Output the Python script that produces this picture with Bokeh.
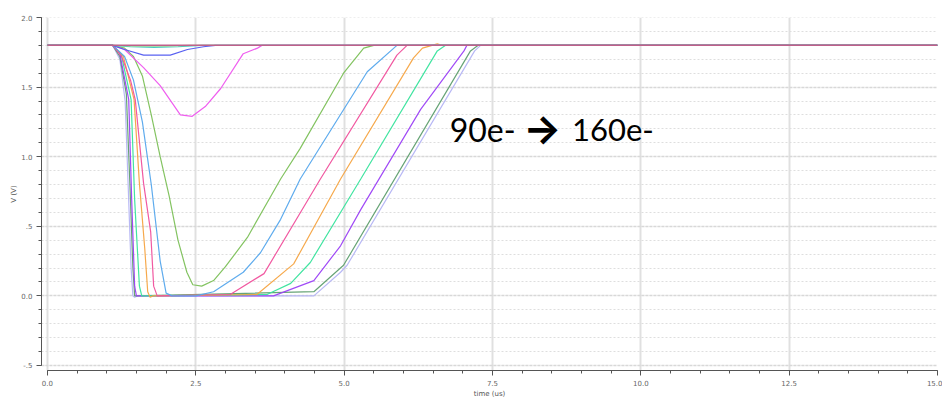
from bokeh.plotting import figure
from bokeh.models import FixedTicker, Label, Range1d
from bokeh.embed import file_html
from bokeh.resources import INLINE
import numpy as np

# ---- data (time in us, voltage in V) ----
t_blue = [0.0, 1.1, 1.3, 1.62, 2.07, 2.36, 2.63, 2.83, 15.0]
v_blue = [1.8, 1.8, 1.77, 1.73, 1.73, 1.77, 1.79, 1.8, 1.8]

t_magenta = [0.0, 1.1, 1.3, 1.62, 1.9, 2.24, 2.44, 2.66, 2.92, 3.3, 3.54, 3.62, 15.0]
v_magenta = [1.8, 1.8, 1.77, 1.64, 1.51, 1.30, 1.29, 1.36, 1.49, 1.74, 1.78, 1.8, 1.8]

t_green = [0.0, 1.1, 1.3, 1.45, 1.6, 1.75, 1.9, 2.05, 2.2, 2.35, 2.45, 2.6, 2.8, 3.0,
           3.37, 3.93, 4.26, 4.99, 5.33, 5.5, 15.0]
v_green = [1.8, 1.8, 1.78, 1.72, 1.58, 1.30, 1.0, 0.72, 0.40, 0.17, 0.08, 0.07, 0.11, 0.21,
           0.42, 0.84, 1.06, 1.60, 1.78, 1.8, 1.8]

t_lightblue = [0.0, 1.1, 1.3, 1.45, 1.6, 1.75, 1.9, 2.0, 2.1, 2.5, 2.8, 3.3, 3.59, 3.93,
               4.26, 5.39, 5.89, 15.0]
v_lightblue = [1.8, 1.8, 1.72, 1.55, 1.25, 0.80, 0.25, 0.02, 0.0, 0.0, 0.03, 0.17, 0.31, 0.55,
               0.84, 1.61, 1.8, 1.8]

t_pink = [0.0, 1.1, 1.25, 1.4, 1.48, 1.62, 1.74, 1.79, 1.85, 3.08, 3.65, 4.6, 5.89, 6.06, 15.0]
v_pink = [1.8, 1.8, 1.72, 1.55, 1.41, 0.81, 0.46, 0.07, 0.0, 0.01, 0.16, 0.84, 1.73, 1.8, 1.8]

t_orange = [0.0, 1.1, 1.28, 1.46, 1.55, 1.64, 1.69, 1.73, 1.78, 3.53, 4.15, 4.94, 6.17, 6.32,
            6.57, 6.65, 15.0]
v_orange = [1.8, 1.8, 1.72, 1.41, 0.81, 0.34, 0.03, -0.01, 0.0, 0.01, 0.23, 0.84, 1.71, 1.78,
            1.81, 1.8, 1.8]

t_teal = [0.0, 1.1, 1.24, 1.41, 1.47, 1.55, 1.59, 3.7, 4.1, 4.43, 5.28, 6.57, 6.71, 15.0]
v_teal = [1.8, 1.8, 1.74, 1.41, 0.69, 0.07, 0.0, 0.01, 0.09, 0.24, 0.84, 1.76, 1.8, 1.8]

t_purple = [0.0, 1.1, 1.22, 1.37, 1.42, 1.47, 1.5, 3.81, 4.49, 4.94, 5.28, 6.29, 7.02, 7.07, 15.0]
v_purple = [1.8, 1.8, 1.74, 1.41, 0.69, 0.07, 0.0, 0.0, 0.11, 0.36, 0.62, 1.34, 1.76, 1.8, 1.8]

t_darkgreen = [0.0, 1.1, 1.22, 1.33, 1.39, 1.44, 1.47, 1.52, 4.49, 4.99, 7.13, 7.26, 15.0]
v_darkgreen = [1.8, 1.8, 1.72, 1.45, 0.80, 0.20, 0.0, 0.0, 0.03, 0.22, 1.76, 1.8, 1.8]

t_lavender = [0.0, 1.1, 1.22, 1.31, 1.36, 1.41, 1.44, 1.47, 1.52, 4.49, 4.94, 5.05, 7.2, 7.3, 15.0]
v_lavender = [1.8, 1.8, 1.70, 1.40, 0.80, 0.20, 0.0, -0.01, 0.0, 0.0, 0.17, 0.22, 1.76, 1.8, 1.8]

t_cyan = [0.0, 1.1, 1.4, 1.8, 2.2, 2.6, 15.0]
v_cyan = [1.8, 1.8, 1.79, 1.785, 1.79, 1.8, 1.8]

t_lime = [0.0, 1.1, 1.5, 2.0, 2.4, 15.0]
v_lime = [1.8, 1.8, 1.795, 1.795, 1.8, 1.8]

t_flat = [0.0, 15.0]
v_flat = [1.8, 1.8]

series = [
    (t_lavender, v_lavender, "#b4b4f4"),
    (t_darkgreen, v_darkgreen, "#5f9f6f"),
    (t_purple, v_purple, "#9b40f5"),
    (t_teal, v_teal, "#38e39c"),
    (t_orange, v_orange, "#f5a442"),
    (t_pink, v_pink, "#f0509c"),
    (t_lightblue, v_lightblue, "#55a6ec"),
    (t_green, v_green, "#7cc058"),
    (t_magenta, v_magenta, "#ee55ee"),
    (t_blue, v_blue, "#5058f0"),
    (t_cyan, v_cyan, "#40c8c0"),
    (t_lime, v_lime, "#90d890"),
]

x_major = [0.0, 2.5, 5.0, 7.5, 10.0, 12.5, 15.0]
x_labels = ["0.0", "2.5", "5.0", "7.5", "10.0", "12.5", "15.0"]
y_major = [-0.5, 0.0, 0.5, 1.0, 1.5, 2.0]
y_labels = ["-.5", "0.0", ".5", "1.0", "1.5", "2.0"]

p = figure(width=942, height=400, output_backend="svg", toolbar_location=None,
           x_range=Range1d(-0.1, 15.0), y_range=Range1d(-0.536, 2.0),
           min_border_left=41, min_border_right=5, min_border_top=17, min_border_bottom=28)
p.outline_line_color = None
p.background_fill_color = "white"

for t, v, c in series:
    p.line(t, v, line_color=c, line_width=1.2, line_alpha=0.95)
p.line(t_flat, v_flat, line_color="#c0608a", line_width=1.5, line_alpha=1.0)

label_font = "DejaVu Sans"
p.xaxis.ticker = FixedTicker(ticks=x_major, minor_ticks=list(np.arange(0, 15.01, 0.5)))
p.xaxis.major_label_overrides = {k: s for k, s in zip(x_major, x_labels)}
p.yaxis.ticker = FixedTicker(ticks=y_major, minor_ticks=list(np.arange(-0.5, 2.01, 0.1)))
p.yaxis.major_label_overrides = {k: s for k, s in zip(y_major, y_labels)}
p.xaxis.bounds = (0, 15)
p.yaxis.bounds = (-0.5, 2.0)
p.xaxis.axis_label = "time (us)"
p.yaxis.axis_label = "V (V)"
for ax in (p.xaxis, p.yaxis):
    ax.axis_line_color = "#555555"
    ax.major_tick_line_color = "#555555"
    ax.minor_tick_line_color = "#555555"
    ax.major_tick_in = 0
    ax.minor_tick_in = 0
    ax.major_tick_out = 5
    ax.minor_tick_out = 3
    ax.major_label_text_font = label_font
    ax.major_label_text_font_size = "7px"
    ax.major_label_text_color = "#666666"
    ax.axis_label_text_font = label_font
    ax.axis_label_text_font_size = "7px"
    ax.axis_label_text_color = "#555555"
    ax.axis_label_text_font_style = "normal"
p.xaxis.major_label_standoff = 4
p.xaxis.axis_label_standoff = 1
p.yaxis.major_label_standoff = 4
p.yaxis.axis_label_standoff = 0

p.xgrid.ticker = FixedTicker(ticks=x_major)
p.xgrid.grid_line_color = "#e0e0e0"
p.xgrid.grid_line_width = 2
p.ygrid.ticker = FixedTicker(ticks=y_major, minor_ticks=list(np.arange(-0.5, 2.01, 0.1)))
p.ygrid.grid_line_color = "#d8d8d8"
p.ygrid.grid_line_width = 1.5
p.ygrid.grid_line_dash = "3 1"
p.ygrid.minor_grid_line_color = "#dedede"
p.ygrid.minor_grid_line_dash = "2 2"

note_parts = ["90e-", "\u2192", "160e-"]
p.add_layout(Label(x=6.78, y=1.19, text=note_parts[0], text_font="Lato",
                   text_font_size="32px", text_color="black", text_baseline="middle",
                   text_align="left"))
p.add_layout(Label(x=8.02, y=1.2, text=note_parts[1], text_font="Inter",
                   text_font_style="bold", text_font_size="40px", text_color="black",
                   text_baseline="middle", text_align="left"))
p.add_layout(Label(x=8.84, y=1.19, text=note_parts[2], text_font="Lato",
                   text_font_size="31px", text_color="black", text_baseline="middle",
                   text_align="left"))

open("out.html", "w").write(file_html(p, INLINE))
